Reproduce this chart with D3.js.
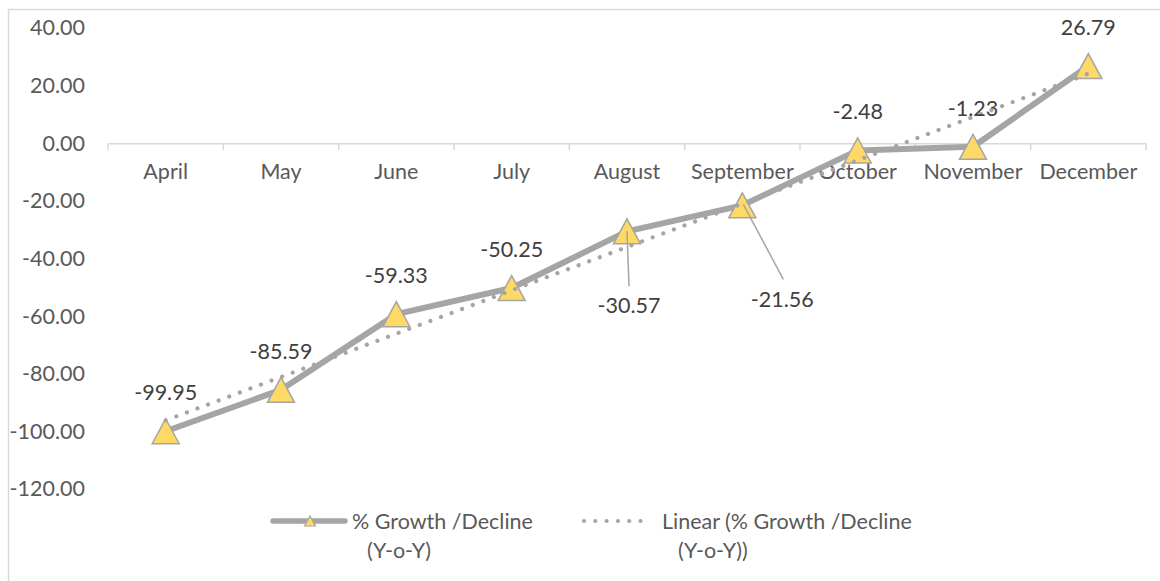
<!DOCTYPE html>
<html>
<head>
<meta charset="utf-8">
<script src="https://cdn.jsdelivr.net/npm/d3@7"></script>
<style>
  html, body { margin: 0; padding: 0; background: #fff; }
  svg { display: block; font-family: Lato, "Open Sans", sans-serif; }
</style>
</head>
<body>
<svg id="chart" width="1160" height="581"></svg>
<script>
// Monthly year-on-year change
const months = ["April", "May", "June", "July", "August", "September", "October", "November", "December"];
const growth = [-99.95, -85.59, -59.33, -50.25, -30.57, -21.56, -2.48, -1.23, 26.79];
const yTicks = [40, 20, 0, -20, -40, -60, -80, -100, -120];
const seriesName = ["% Growth /Decline", "(Y-o-Y)"];
const trendName = ["Linear (% Growth /Decline", "(Y-o-Y))"];

const svg = d3.select("#chart");
const GRAY = "#a5a5a5";
const AXIS = "#d9d9d9";
const YELLOW = "#ffd966";
const FS = 21.5;

// two decimals with a plain hyphen for negatives
const fmt = d3.formatLocale({ decimal: ".", thousands: ",", grouping: [3], currency: ["", ""], minus: "-" }).format(".2f");

// chart frame (extends past the visible area on right and bottom)
svg.append("rect")
  .attr("x", 8.5).attr("y", 9.5)
  .attr("width", 1200).attr("height", 620)
  .attr("fill", "none").attr("stroke", AXIS).attr("stroke-width", 1.5);

const x = d3.scaleBand().domain(months).range([108, 1146]).padding(0);
const y = d3.scaleLinear().domain([-120, 40]).range([489, 28]);
const cx = m => x(m) + x.bandwidth() / 2;

// value axis: labels only
const yAxis = svg.append("g")
  .attr("transform", "translate(88,0)")
  .call(d3.axisLeft(y).tickValues(yTicks).tickFormat(fmt).tickSize(0).tickPadding(3));
yAxis.select(".domain").remove();
yAxis.selectAll("text")
  .attr("fill", "#595959").style("font-size", FS + "px").style("font-family", "Lato");

// category axis crosses at zero, ticks on band boundaries
const xAxis = svg.append("g")
  .attr("transform", `translate(0,${y(0)})`)
  .call(d3.axisBottom(x).tickSize(0).tickPadding(20));
xAxis.select(".domain").attr("stroke", AXIS).attr("stroke-width", 1.5);
xAxis.selectAll("text")
  .attr("fill", "#595959").style("font-size", FS + "px").style("font-family", "Lato");
const bounds = months.map(m => x(m)).concat([x(months[months.length - 1]) + x.bandwidth()]);
xAxis.selectAll("line.bound").data(bounds).enter().append("line")
  .attr("class", "bound")
  .attr("x1", d => d).attr("x2", d => d)
  .attr("y1", 0).attr("y2", 7)
  .attr("stroke", AXIS).attr("stroke-width", 1.5);

const pts = months.map((m, i) => ({ m, v: growth[i], i }));

// main series line
svg.append("path")
  .datum(pts)
  .attr("d", d3.line().x(d => cx(d.m)).y(d => y(d.v)))
  .attr("fill", "none").attr("stroke", GRAY).attr("stroke-width", 6)
  .attr("stroke-linejoin", "round");

// triangle markers, centred on the point
const tri = (px, py, w, h) => `M${px - w / 2},${py + h / 2}L${px + w / 2},${py + h / 2}L${px},${py - h / 2}Z`;
svg.selectAll("path.marker").data(pts).enter().append("path")
  .attr("class", "marker")
  .attr("d", d => tri(cx(d.m), y(d.v), 27, 25))
  .attr("fill", YELLOW).attr("stroke", GRAY).attr("stroke-width", 1.5)
  .attr("stroke-linejoin", "miter");

// least-squares trend line over the category index
const n = growth.length;
const xs = d3.range(1, n + 1);
const mx = d3.mean(xs), my = d3.mean(growth);
const slope = d3.sum(xs, (xi, k) => (xi - mx) * (growth[k] - my)) / d3.sum(xs, xi => (xi - mx) ** 2);
const icpt = my - slope * mx;
const trend = [
  { m: months[0], v: icpt + slope * 1 },
  { m: months[n - 1], v: icpt + slope * n }
];
svg.append("path")
  .datum(trend)
  .attr("d", d3.line().x(d => cx(d.m)).y(d => y(d.v)))
  .attr("fill", "none").attr("stroke", GRAY).attr("stroke-width", 4.2)
  .attr("stroke-linecap", "round").attr("stroke-dasharray", "0.01 11.3");

// data labels: above the point, with a few moved below with leader lines
const moved = {
  "August": { dx: 2, dy: 74, lead: [0, 0, 2, 55] },
  "September": { dx: 40, dy: 94, lead: [1, -1, 41, 74] }
};
pts.forEach(d => {
  const px = cx(d.m), py = y(d.v);
  const mv = moved[d.m];
  if (mv) {
    svg.append("line")
      .attr("x1", px + mv.lead[0]).attr("y1", py + mv.lead[1])
      .attr("x2", px + mv.lead[2]).attr("y2", py + mv.lead[3])
      .attr("stroke", GRAY).attr("stroke-width", 1.5);
  }
  svg.append("text")
    .attr("x", px + (mv ? mv.dx : 0))
    .attr("y", py + (mv ? mv.dy : -39))
    .attr("text-anchor", "middle").attr("dominant-baseline", "central")
    .attr("fill", "#404040").style("font-size", FS + "px")
    .text(fmt(d.v));
});

// legend
const lg = svg.append("g");
const ly = 521;
lg.append("line").attr("x1", 273).attr("x2", 345).attr("y1", ly).attr("y2", ly)
  .attr("stroke", GRAY).attr("stroke-width", 5.5).attr("stroke-linecap", "round");
lg.append("path").attr("d", tri(310, ly, 11, 10))
  .attr("fill", YELLOW).attr("stroke", GRAY).attr("stroke-width", 1.2);
lg.append("text").attr("x", 352).attr("y", ly).attr("dominant-baseline", "central")
  .attr("fill", "#595959").style("font-size", FS + "px").text(seriesName[0]);
lg.append("text").attr("x", 367).attr("y", ly + 29).attr("dominant-baseline", "central")
  .attr("fill", "#595959").style("font-size", FS + "px").text(seriesName[1]);
lg.append("line").attr("x1", 584).attr("x2", 650).attr("y1", ly).attr("y2", ly)
  .attr("stroke", GRAY).attr("stroke-width", 4.2)
  .attr("stroke-linecap", "round").attr("stroke-dasharray", "0.01 11.3");
lg.append("text").attr("x", 662).attr("y", ly).attr("dominant-baseline", "central")
  .attr("fill", "#595959").style("font-size", FS + "px").text(trendName[0]);
lg.append("text").attr("x", 678).attr("y", ly + 29).attr("dominant-baseline", "central")
  .attr("fill", "#595959").style("font-size", FS + "px").text(trendName[1]);
</script>
</body>
</html>
